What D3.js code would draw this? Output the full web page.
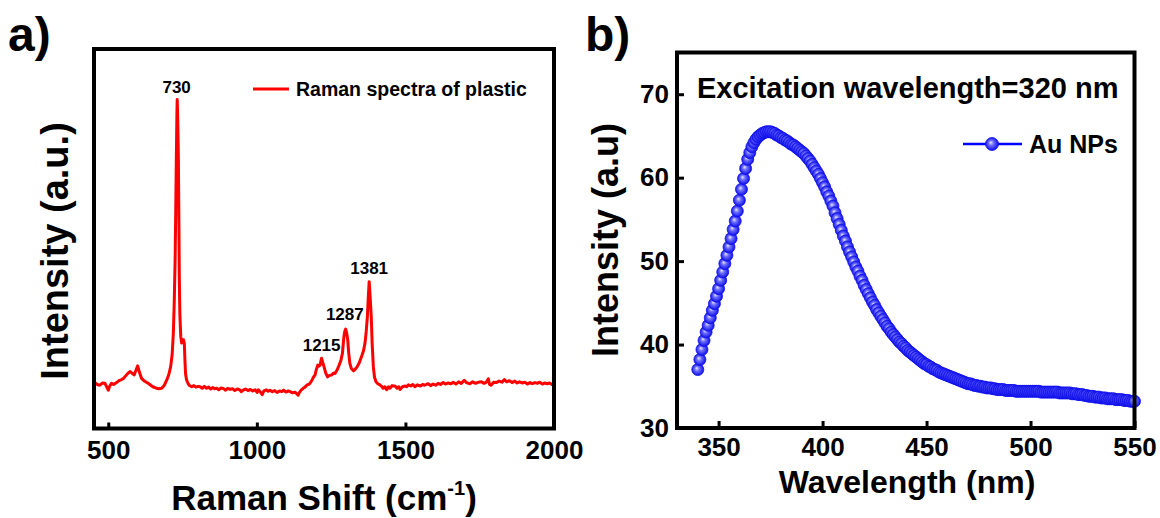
<!DOCTYPE html>
<html>
<head>
<meta charset="utf-8">
<script src="https://cdn.jsdelivr.net/npm/d3@7"></script>
<style>
body { margin: 0; background: #fff; }
text { font-family: "Liberation Sans", Arial, sans-serif; font-weight: bold; fill: #000; }
</style>
</head>
<body>
<script>
// panel a: Raman spectrum
var ramanShift = [455,463,472,480,489,495,500,505,511,518,528,536,545,551,560,567,573,580,587,593,
  599,605,612,620,628,635,643,650,657,663,670,680,688,697,704,710,715,719,722,725,727,729,731,732,733,
  735,736,738,739,741,744,747,750,753,756,758,760,763,766,772,781,788,795,802,809,816,823,831,838,845,
  852,858,865,872,880,888,895,902,910,918,926,934,942,948,954,962,970,978,986,994,1001,1005,1011,1018,
  1024,1032,1038,1044,1052,1060,1068,1076,1084,1090,1098,1106,1112,1120,1128,1134,1139,1144,1150,1156,
  1162,1168,1174,1179,1186,1191,1196,1200,1205,1209,1213,1216,1218,1221,1226,1232,1238,1244,1252,1258,
  1263,1270,1277,1283,1288,1291,1293,1296,1299,1302,1306,1309,1313,1318,1325,1331,1338,1345,1353,1359,
  1364,1368,1372,1375,1378,1381,1385,1388,1392,1396,1401,1407,1414,1420,1425,1431,1437,1443,1448,1455,
  1460,1465,1472,1478,1482,1490,1499,1504,1510,1518,1525,1532,1540,1550,1558,1565,1576,1585,1593,1602,
  1610,1618,1627,1635,1644,1653,1661,1670,1679,1688,1698,1705,1717,1726,1736,1746,1756,1765,1772,1779,
  1783,1788,1797,1807,1815,1825,1833,1841,1850,1859,1868,1876,1884,1893,1902,1910,1919,1927,1936,1944,
  1952,1961,1969,1977,1985,1993,1999];
var ramanIntensity = [12.1,11.6,11.4,12.0,11.9,10.9,10.1,11.2,11.9,11.6,12.1,12.6,12.9,13.2,14.0,14.6,15.0,14.6,14.1,15.3,
  16.5,14.8,13.2,12.6,12.2,11.9,11.4,11.0,10.8,10.6,10.5,10.6,11.3,12.8,14.3,16.3,19.5,25.1,33.0,44.4,57.0,70.8,83.0,86.7,84.0,
  76.0,70.8,52.0,40.0,30.0,24.2,22.5,22.9,23.4,22.4,18.0,14.5,13.0,12.3,11.4,11.0,11.3,10.9,11.1,11.0,10.6,11.1,10.6,10.9,10.4,
  10.8,10.5,10.6,10.2,10.7,10.5,10.1,10.6,10.3,10.5,10.0,10.4,10.2,9.7,10.1,10.4,10.0,10.3,9.9,10.2,9.5,10.2,9.7,8.9,
  9.9,10.2,9.8,10.1,9.7,10.0,9.5,9.9,9.7,10.1,9.6,9.9,9.7,9.4,9.6,9.2,8.8,9.6,10.2,10.6,
  10.9,11.4,11.6,11.9,12.8,13.6,14.1,15.5,16.7,16.4,16.7,18.0,18.5,17.6,16.3,14.6,13.6,14.0,14.1,14.6,
  14.5,15.4,16.7,18.0,19.8,22.5,24.2,25.6,26.2,25.3,23.3,20.0,17.2,15.8,15.2,15.6,16.3,17.4,19.1,20.5,
  22.5,25.5,29.5,34.5,38.7,35.0,29.5,22.5,16.3,13.5,12.3,11.8,11.5,11.1,10.6,11.0,10.2,11.0,10.6,11.3,
  11.2,11.2,10.6,11.0,10.3,11.0,11.2,11.0,11.5,11.2,11.6,11.0,11.5,11.2,11.6,11.4,11.8,11.3,11.7,11.4,
  11.9,11.6,12.1,11.7,12.0,11.8,12.2,11.7,12.3,11.9,12.7,12.1,11.8,12.3,11.9,12.2,12.3,11.9,12.2,13.1,
  11.6,11.4,12.2,12.1,12.5,12.2,12.9,12.3,12.6,12.1,12.5,12.0,12.3,12.0,12.2,11.7,12.1,11.8,12.1,11.9,
  12.2,11.7,12.0,11.8,12.0,11.6,11.8];
var ramanTicks = [500, 1000, 1500, 2000];
var peakLabels = ["730", "1215", "1287", "1381"];
var peakShift = [730, 1218, 1296, 1378];
var peakLabelHeight = [88.5, 20.5, 28.5, 40.8];

// panel b: emission spectrum, one point per nm from 340 to 550
var wavelength = d3.range(340, 551);
var auIntensity = [
  37.0,38.2,39.4,40.5,41.5,42.3,43.2,44.1,44.9,45.8,
  46.7,47.7,48.7,49.7,50.7,51.7,52.7,53.8,54.8,56.0,
  57.3,58.6,59.9,61.1,62.2,63.0,63.7,64.2,64.6,64.9,
  65.1,65.3,65.4,65.5,65.5,65.5,65.4,65.3,65.1,65.0,
  64.8,64.7,64.5,64.4,64.2,64.0,63.9,63.7,63.5,63.3,
  63.1,62.9,62.6,62.3,62.0,61.6,61.2,60.8,60.4,59.9,
  59.4,58.9,58.3,57.8,57.2,56.6,55.8,55.1,54.4,53.7,
  53.0,52.4,51.7,51.1,50.5,49.9,49.3,48.8,48.2,47.7,
  47.1,46.6,46.1,45.6,45.1,44.7,44.2,43.8,43.4,43.0,
  42.6,42.2,41.9,41.5,41.2,40.9,40.6,40.3,40.1,39.8,
  39.6,39.3,39.1,38.9,38.7,38.5,38.3,38.1,37.9,37.7,
  37.6,37.4,37.3,37.1,37.0,36.9,36.7,36.6,36.5,36.4,
  36.3,36.2,36.1,36.0,35.9,35.8,35.7,35.6,35.5,35.4,
  35.3,35.3,35.2,35.1,35.1,35.0,35.0,34.9,34.9,34.8,
  34.8,34.8,34.7,34.7,34.6,34.6,34.6,34.6,34.5,34.5,
  34.5,34.5,34.5,34.4,34.4,34.4,34.4,34.4,34.4,34.4,
  34.4,34.4,34.4,34.4,34.4,34.3,34.3,34.3,34.3,34.3,
  34.3,34.3,34.3,34.3,34.2,34.2,34.2,34.2,34.2,34.2,
  34.1,34.1,34.1,34.0,34.0,34.0,33.9,33.9,33.8,33.8,
  33.8,33.7,33.7,33.7,33.6,33.6,33.6,33.5,33.5,33.5,
  33.5,33.4,33.4,33.4,33.4,33.3,33.3,33.3,33.2,33.2,
  33.2];
var wlTicks = [350, 400, 450, 500, 550];
var intTicks = [30, 40, 50, 60, 70];

var svg = d3.select("body").append("svg").attr("width", 1160).attr("height", 518);
svg.append("rect").attr("width", 1160).attr("height", 518).attr("fill", "#fff");

var defs = svg.append("defs");
var grad = defs.append("radialGradient").attr("id", "ball")
  .attr("cx", "50%").attr("cy", "50%").attr("r", "55%").attr("fx", "40%").attr("fy", "38%");
grad.append("stop").attr("offset", "0%").attr("stop-color", "#e8e8ff");
grad.append("stop").attr("offset", "35%").attr("stop-color", "#7070ff");
grad.append("stop").attr("offset", "100%").attr("stop-color", "#0000e6");

function styleAxis(g, size) {
  g.select(".domain").remove();
  g.selectAll("line").attr("stroke", "#000").attr("stroke-width", 3);
  g.selectAll("text").attr("font-size", size)
    .attr("font-family", "'Liberation Sans', Arial, sans-serif").attr("font-weight", "bold");
}

// ---------- panel a ----------
var xA = d3.scaleLinear().domain([452, 2000]).range([94, 554]);
var yA = d3.scaleLinear().domain([0, 100]).range([428.5, 49]);

var gxA = svg.append("g").attr("transform", "translate(0," + yA(0) + ")")
  .call(d3.axisBottom(xA).tickValues(ramanTicks).tickFormat(d3.format("d"))
    .tickSizeInner(-6).tickSizeOuter(0).tickPadding(12));
styleAxis(gxA, 26);

var lineA = d3.line().x(function(d, i) { return xA(ramanShift[i]); })
  .y(function(d) { return yA(d); });
svg.append("path").datum(ramanIntensity).attr("d", lineA)
  .attr("fill", "none").attr("stroke", "#ff0000").attr("stroke-width", 3)
  .attr("stroke-linejoin", "round");

svg.append("rect").attr("x", xA(452)).attr("y", yA(100))
  .attr("width", xA(2000) - xA(452)).attr("height", yA(0) - yA(100))
  .attr("fill", "none").attr("stroke", "#000").attr("stroke-width", 4);

svg.selectAll("text.peak").data(peakLabels).enter().append("text")
  .attr("class", "peak")
  .attr("x", function(d, i) { return xA(peakShift[i]); })
  .attr("y", function(d, i) { return yA(peakLabelHeight[i]); })
  .attr("text-anchor", "middle").attr("font-size", 17)
  .text(function(d) { return d; });

// legend a
svg.append("line").attr("x1", 253).attr("x2", 289).attr("y1", 89).attr("y2", 89)
  .attr("stroke", "#ff0000").attr("stroke-width", 3);
svg.append("text").attr("x", 296).attr("y", 96).attr("font-size", 19.5)
  .text("Raman spectra of plastic");

// titles a
var xtA = svg.append("text").attr("x", 324).attr("y", 510).attr("text-anchor", "middle")
  .attr("font-size", 35);
xtA.append("tspan").text("Raman Shift (cm");
xtA.append("tspan").attr("font-size", 20).attr("dy", -15).text("-1");
xtA.append("tspan").attr("dy", 15).text(")");

svg.append("text").attr("transform", "translate(68,251) rotate(-90)")
  .attr("text-anchor", "middle").attr("font-size", 38).text("Intensity (a.u.)");
svg.append("text").attr("x", 8).attr("y", 51).attr("font-size", 48).text("a)");

// ---------- panel b ----------
var xB = d3.scaleLinear().domain([330, 550]).range([677, 1134.5]);
var yB = d3.scaleLinear().domain([30, 75]).range([428, 52.5]);

var gxB = svg.append("g").attr("transform", "translate(0," + yB(30) + ")")
  .call(d3.axisBottom(xB).tickValues(wlTicks).tickSizeInner(-7).tickSizeOuter(0).tickPadding(10));
styleAxis(gxB, 26);
var gyB = svg.append("g").attr("transform", "translate(" + xB(330) + ",0)")
  .call(d3.axisLeft(yB).tickValues(intTicks).tickSizeInner(-7).tickSizeOuter(0).tickPadding(8));
styleAxis(gyB, 26);

var lineB = d3.line().x(function(d, i) { return xB(wavelength[i]); })
  .y(function(d) { return yB(d); });
svg.append("path").datum(auIntensity).attr("d", lineB)
  .attr("fill", "none").attr("stroke", "#0000ff").attr("stroke-width", 2);
svg.append("g").selectAll("circle").data(auIntensity).enter().append("circle")
  .attr("cx", function(d, i) { return xB(wavelength[i]); })
  .attr("cy", function(d) { return yB(d); })
  .attr("r", 6)
  .attr("fill", "url(#ball)").attr("stroke", "#1010ee").attr("stroke-width", 0.8);

svg.append("rect").attr("x", xB(330)).attr("y", yB(75))
  .attr("width", xB(550) - xB(330)).attr("height", yB(30) - yB(75))
  .attr("fill", "none").attr("stroke", "#000").attr("stroke-width", 4);

svg.append("text").attr("x", 697).attr("y", 98).attr("font-size", 29)
  .text("Excitation wavelength=320 nm");

// legend b
svg.append("line").attr("x1", 963).attr("x2", 1022).attr("y1", 144).attr("y2", 144)
  .attr("stroke", "#0000ff").attr("stroke-width", 2.5);
svg.append("circle").attr("cx", 992).attr("cy", 144).attr("r", 6.5)
  .attr("fill", "url(#ball)").attr("stroke", "#1010ee").attr("stroke-width", 0.8);
svg.append("text").attr("x", 1029).attr("y", 153).attr("font-size", 25).text("Au NPs");

// titles b
svg.append("text").attr("x", 907).attr("y", 493).attr("text-anchor", "middle")
  .attr("font-size", 32).text("Wavelength (nm)");
svg.append("text").attr("transform", "translate(618,240) rotate(-90)")
  .attr("text-anchor", "middle").attr("font-size", 36).text("Intensity (a.u)");
svg.append("text").attr("x", 585).attr("y", 51).attr("font-size", 48).text("b)");
</script>
</body>
</html>
